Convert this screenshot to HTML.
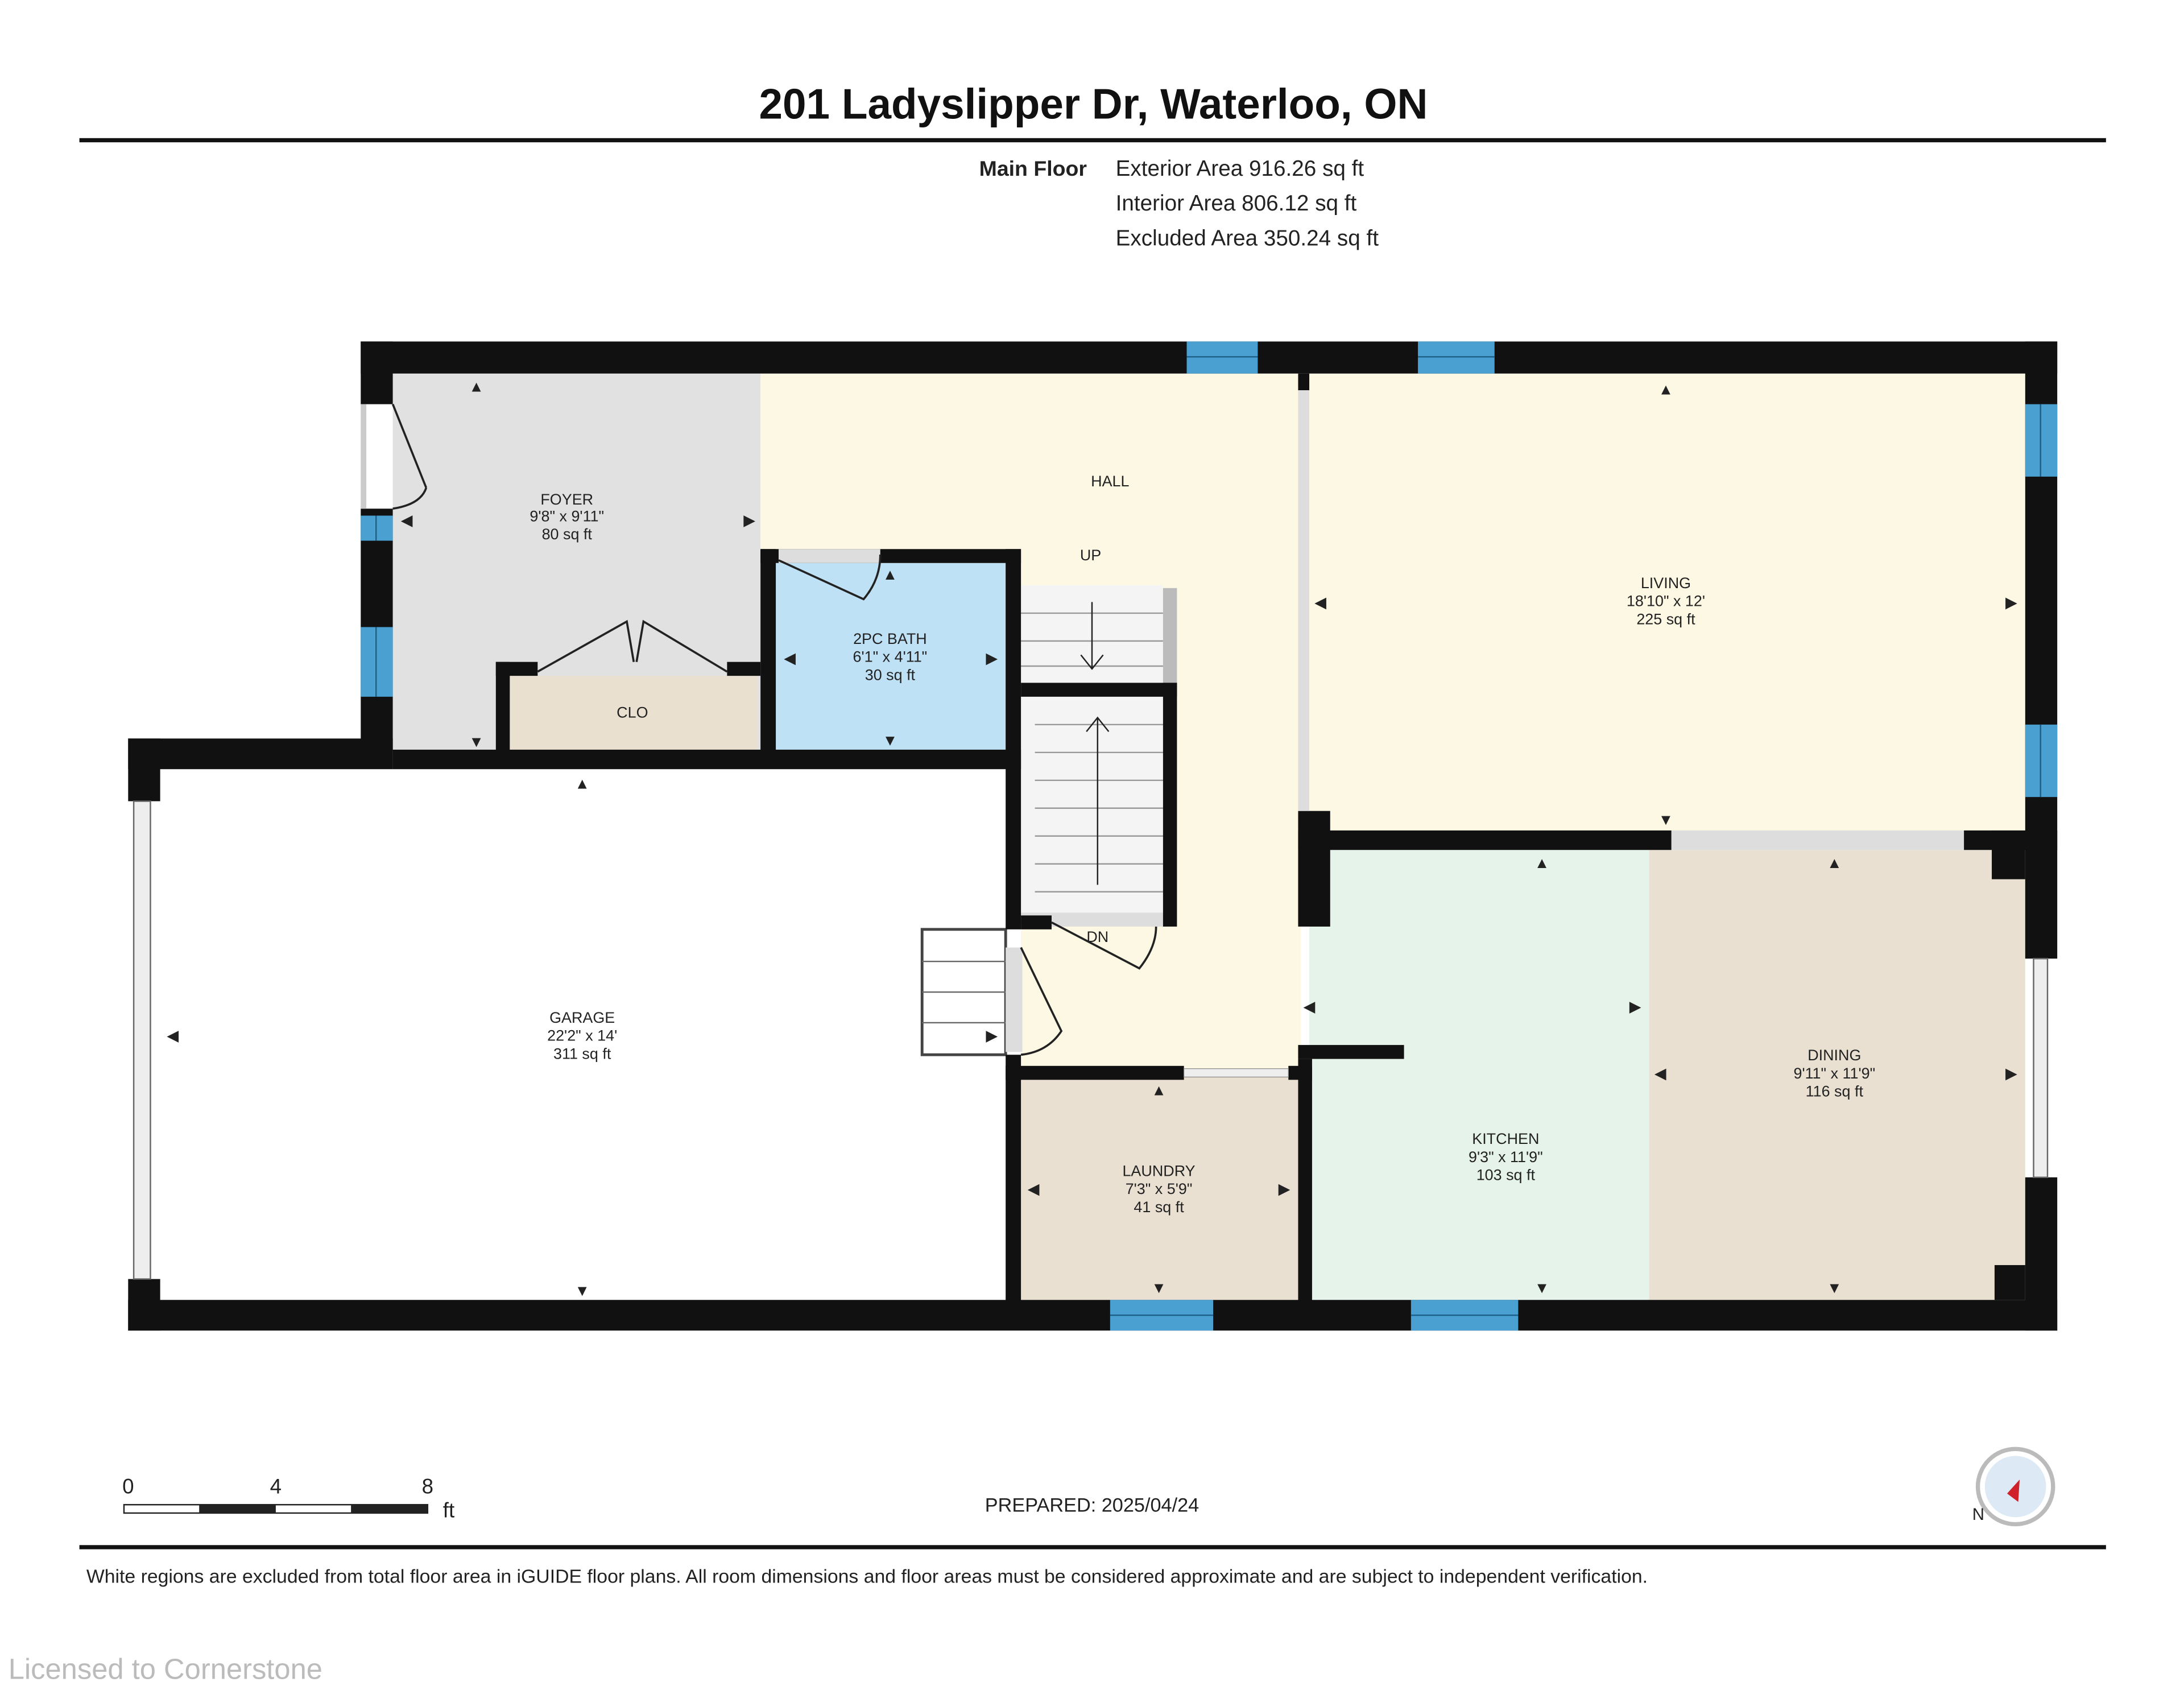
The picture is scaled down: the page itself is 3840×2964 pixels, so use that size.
<!DOCTYPE html>
<html><head><meta charset="utf-8"><style>
html,body{margin:0;padding:0;background:#fff}
svg{display:block}
text{font-family:"Liberation Sans",Arial,sans-serif}
</style></head><body>
<svg width="3840" height="2964" viewBox="0 0 1568 1210" xmlns="http://www.w3.org/2000/svg">
<rect width="1568" height="1210" fill="#fff"/>
<text x="785" y="85" font-size="30.5" font-weight="bold" text-anchor="middle" fill="#111">201 Ladyslipper Dr, Waterloo, ON</text>
<rect x="57" y="99" width="1455" height="3" fill="#111"/>
<text x="703" y="126" font-size="15.3" font-weight="bold" fill="#222">Main Floor</text>
<text x="801" y="126" font-size="15.8" fill="#222">Exterior Area 916.26 sq ft</text>
<text x="801" y="151" font-size="15.8" fill="#222">Interior Area 806.12 sq ft</text>
<text x="801" y="176" font-size="15.8" fill="#222">Excluded Area 350.24 sq ft</text>

<!-- fills -->
<rect x="282" y="268" width="264" height="272" fill="#e1e1e1"/>
<rect x="546" y="268" width="388" height="272" fill="#fdf8e3"/>
<rect x="733" y="530" width="201" height="238" fill="#fdf8e3"/>
<rect x="366" y="485" width="178" height="54" fill="#e9e0d0"/>
<rect x="557" y="404" width="166" height="135" fill="#bfe1f6"/>
<rect x="940" y="268" width="514" height="330" fill="#fdf8e3"/>
<rect x="940" y="610" width="245" height="323" fill="#e6f3ea"/>
<rect x="1184" y="610" width="270" height="323" fill="#e9e0d1"/>
<rect x="733" y="773" width="199" height="160" fill="#e9e0d1"/>
<rect x="733" y="420" width="102" height="245" fill="#f4f4f4"/>

<!-- stairs -->
<g stroke="#999" stroke-width="1">
<line x1="733" y1="440" x2="835" y2="440"/><line x1="733" y1="460" x2="835" y2="460"/><line x1="733" y1="478" x2="835" y2="478"/>
<line x1="743" y1="520" x2="835" y2="520"/><line x1="743" y1="540" x2="835" y2="540"/><line x1="743" y1="560" x2="835" y2="560"/><line x1="743" y1="580" x2="835" y2="580"/><line x1="743" y1="600" x2="835" y2="600"/><line x1="743" y1="620" x2="835" y2="620"/><line x1="743" y1="640" x2="835" y2="640"/>
</g>
<rect x="835" y="422" width="10" height="68" fill="#bbb"/>
<rect x="733" y="655" width="102" height="10" fill="#ddd"/>
<line x1="784" y1="432" x2="784" y2="480" stroke="#222"/><path d="M776 470 L784 480 L792 470" fill="none" stroke="#222"/>
<line x1="788" y1="635" x2="788" y2="515" stroke="#222"/><path d="M780 525 L788 515 L796 525" fill="none" stroke="#222"/>
<rect x="662" y="667" width="60" height="90" fill="#fff" stroke="#444" stroke-width="2"/>
<g stroke="#666"><line x1="662" y1="690" x2="722" y2="690"/><line x1="662" y1="712" x2="722" y2="712"/><line x1="662" y1="734" x2="722" y2="734"/></g>
<rect x="722" y="680" width="12" height="75" fill="#ddd"/>

<!-- walls -->
<g fill="#111">
<rect x="259" y="245" width="1218" height="23"/>
<rect x="259" y="245" width="23" height="45"/>
<rect x="259" y="365" width="23" height="175"/>
<rect x="1454" y="245" width="23" height="443"/>
<rect x="1454" y="845" width="23" height="110"/>
<rect x="92" y="933" width="1385" height="22"/>
<rect x="92" y="530" width="23" height="45"/>
<rect x="92" y="918" width="23" height="37"/>
<rect x="92" y="530" width="190" height="22"/>
<rect x="282" y="538" width="451" height="14"/>
<rect x="546" y="394" width="187" height="10"/>
<rect x="546" y="394" width="11" height="146"/>
<rect x="722" y="394" width="11" height="146"/>
<rect x="356" y="475" width="30" height="10"/>
<rect x="522" y="475" width="24" height="10"/>
<rect x="356" y="475" width="10" height="65"/>
<rect x="722" y="540" width="11" height="127"/>
<rect x="722" y="757" width="11" height="178"/>
<rect x="733" y="490" width="112" height="10"/>
<rect x="835" y="490" width="10" height="175"/>
<rect x="733" y="657" width="22" height="10"/>
<rect x="722" y="765" width="128" height="10"/>
<rect x="925" y="765" width="17" height="10"/>
<rect x="932" y="268" width="8" height="12"/>
<rect x="932" y="596" width="268" height="14"/>
<rect x="1410" y="596" width="67" height="14"/>
<rect x="1430" y="596" width="24" height="35"/>
<rect x="1432" y="908" width="22" height="25"/>
<rect x="932" y="582" width="23" height="83"/>
<rect x="932" y="750" width="76" height="10"/>
<rect x="932" y="760" width="10" height="175"/>
</g>
<rect x="932" y="280" width="8" height="302" fill="#ddd"/>
<rect x="1200" y="596" width="210" height="14" fill="#ddd"/>
<rect x="1460" y="688" width="10" height="157" fill="#eee" stroke="#666" stroke-width="1"/>
<rect x="96" y="575" width="12" height="343" fill="#eee" stroke="#666" stroke-width="1"/>
<rect x="850" y="767" width="75" height="6" fill="#eee" stroke="#888" stroke-width="0.5"/>
<rect x="559" y="394" width="73" height="10" fill="#ddd"/>

<!-- windows -->
<g fill="#4aa0d0">
<rect x="852" y="245" width="51" height="23"/><rect x="1018" y="245" width="55" height="23"/>
<rect x="1454" y="290" width="23" height="52"/><rect x="1454" y="520" width="23" height="52"/>
<rect x="259" y="370" width="23" height="18"/><rect x="259" y="450" width="23" height="50"/>
<rect x="797" y="933" width="74" height="22"/><rect x="1013" y="933" width="77" height="22"/>
</g>
<g stroke="#1c5f88" stroke-width="1">
<line x1="852" y1="256" x2="903" y2="256"/><line x1="1018" y1="256" x2="1073" y2="256"/>
<line x1="1465" y1="290" x2="1465" y2="342"/><line x1="1465" y1="520" x2="1465" y2="572"/>
<line x1="270" y1="370" x2="270" y2="388"/><line x1="270" y1="450" x2="270" y2="500"/>
<line x1="797" y1="944" x2="871" y2="944"/><line x1="1013" y1="944" x2="1090" y2="944"/>
</g>

<!-- doors -->
<g fill="none" stroke="#222" stroke-width="1.5">
<path d="M282 290 L306 350 M282 365 Q302 362 306 350"/>
<path d="M386 482 L450 446 L455 475 M522 482 L462 446 L457 475"/>
<path d="M559 402 L620 430 Q632 416 632 398"/>
<path d="M733 680 L762 740 Q752 755 733 757"/>
<path d="M755 662 L818 695 Q830 680 830 665"/>
</g>
<rect x="259" y="290" width="4" height="75" fill="#ccc"/>

<!-- labels -->
<g font-size="11" fill="#222" text-anchor="middle">
<text x="407" y="362">FOYER</text><text x="407" y="374">9'8" x 9'11"</text><text x="407" y="387">80 sq ft</text>
<text x="797" y="349">HALL</text><text x="783" y="402">UP</text><text x="788" y="676">DN</text>
<text x="454" y="515">CLO</text>
<text x="639" y="462">2PC BATH</text><text x="639" y="475">6'1" x 4'11"</text><text x="639" y="488">30 sq ft</text>
<text x="1196" y="422">LIVING</text><text x="1196" y="435">18'10" x 12'</text><text x="1196" y="448">225 sq ft</text>
<text x="418" y="734">GARAGE</text><text x="418" y="747">22'2" x 14'</text><text x="418" y="760">311 sq ft</text>
<text x="1317" y="761">DINING</text><text x="1317" y="774">9'11" x 11'9"</text><text x="1317" y="787">116 sq ft</text>
<text x="1081" y="821">KITCHEN</text><text x="1081" y="834">9'3" x 11'9"</text><text x="1081" y="847">103 sq ft</text>
<text x="832" y="844">LAUNDRY</text><text x="832" y="857">7'3" x 5'9"</text><text x="832" y="870">41 sq ft</text>
</g>
<g font-size="11" fill="#222" text-anchor="middle">
<text x="342" y="281">▲</text><text x="342" y="536">▼</text><text x="292" y="377">◀</text><text x="538" y="377">▶</text>
<text x="639" y="416">▲</text><text x="639" y="535">▼</text><text x="567" y="476">◀</text><text x="712" y="476">▶</text>
<text x="1196" y="283">▲</text><text x="1196" y="592">▼</text><text x="948" y="436">◀</text><text x="1444" y="436">▶</text>
<text x="418" y="566">▲</text><text x="418" y="930">▼</text><text x="124" y="747">◀</text><text x="712" y="747">▶</text>
<text x="1107" y="623">▲</text><text x="1107" y="928">▼</text><text x="940" y="726">◀</text><text x="1174" y="726">▶</text>
<text x="1317" y="623">▲</text><text x="1317" y="928">▼</text><text x="1192" y="774">◀</text><text x="1444" y="774">▶</text>
<text x="832" y="786">▲</text><text x="832" y="928">▼</text><text x="742" y="857">◀</text><text x="922" y="857">▶</text>
</g>

<!-- scale bar -->
<g font-size="15" fill="#222">
<text x="92" y="1072" text-anchor="middle">0</text><text x="198" y="1072" text-anchor="middle">4</text><text x="307" y="1072" text-anchor="middle">8</text><text x="318" y="1089">ft</text>
</g>
<rect x="89" y="1080" width="218" height="6" fill="#fff" stroke="#222" stroke-width="1"/>
<rect x="143" y="1080" width="55" height="6" fill="#222"/><rect x="252" y="1080" width="55" height="6" fill="#222"/>
<text x="784" y="1085" font-size="14" text-anchor="middle" fill="#222">PREPARED: 2025/04/24</text>
<circle cx="1447" cy="1067" r="27" fill="#fff" stroke="#bbb" stroke-width="3"/>
<circle cx="1447" cy="1067" r="22" fill="#ddeaf5"/>
<path d="M1441 1072 L1450 1062 L1449 1078 Z" fill="#d0202a"/>
<text x="1416" y="1091" font-size="12" fill="#222">N</text>
<rect x="57" y="1109" width="1455" height="3" fill="#111"/>
<text x="62" y="1136" font-size="13.8" fill="#222">White regions are excluded from total floor area in iGUIDE floor plans. All room dimensions and floor areas must be considered approximate and are subject to independent verification.</text>
<text x="6" y="1205" font-size="20.7" fill="#bbb">Licensed to Cornerstone</text>
</svg>
</body></html>
